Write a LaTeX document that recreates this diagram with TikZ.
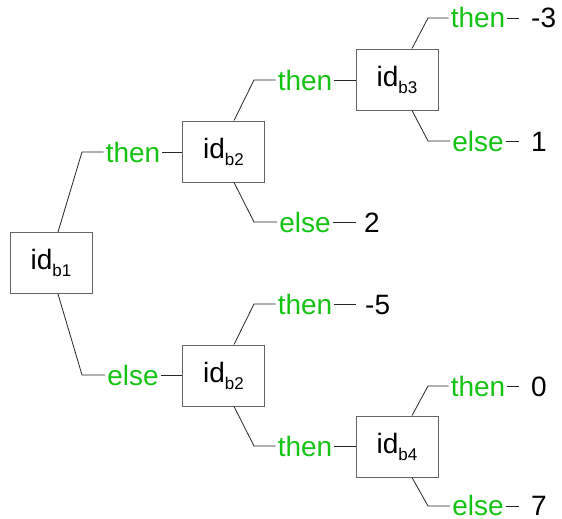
\documentclass[tikz,border=0pt]{standalone}
\usepackage{fontspec}
\setmainfont{Liberation Sans}
\definecolor{brgreen}{RGB}{20,195,20}
\definecolor{boxgray}{RGB}{100,100,100}
\newcommand\idsub[1]{id\raisebox{-7pt}{\fontsize{17}{17}\selectfont #1}}
\begin{document}
\begin{tikzpicture}[x=1pt,y=-1pt,
  testbox/.style={draw=boxgray, line width=0.9pt, minimum width=82pt,
    minimum height=61pt, inner sep=0pt, font=\fontsize{28}{30}\selectfont},
  branch/.style={text=brgreen, font=\fontsize{28}{30}\selectfont,
    anchor=base, inner xsep=2pt, inner ysep=0pt},
  leafval/.style={font=\fontsize{28}{30}\selectfont, anchor=base west, inner sep=0pt},
  wire/.style={draw=black!85, line width=0.8pt}]
\useasboundingbox (0,0) rectangle (562,519);

% decision boxes
\node[testbox] (b1)  at (51,263)    {\idsub{b1}};
\node[testbox] (b2u) at (223.5,151.5) {\idsub{b2}};
\node[testbox] (b3)  at (397,79.5)  {\idsub{b3}};
\node[testbox] (b2l) at (223.5,375.5) {\idsub{b2}};
\node[testbox] (b4)  at (397,446.5) {\idsub{b4}};

% bend points of the branches
\coordinate (k1t)  at (82,152);
\coordinate (k1e)  at (82,375);
\coordinate (k2ut) at (254,80);
\coordinate (k2ue) at (254,222);
\coordinate (k2lt) at (254,304);
\coordinate (k2ll) at (254,446);
\coordinate (k3t)  at (428,18);
\coordinate (k3e)  at (428,141);
\coordinate (k4t)  at (428,386);
\coordinate (k4e)  at (428,506);

% branch labels
\node[branch] (l1t)  at (133,162) {then};
\node[branch] (l1e)  at (133,385) {else};
\node[branch] (l2ut) at (305,90)  {then};
\node[branch] (l2ue) at (305,232) {else};
\node[branch] (l2lt) at (305,314) {then};
\node[branch] (l2ll) at (305,456) {then};
\node[branch] (l3t)  at (478,28)  {then};
\node[branch] (l3e)  at (478,151) {else};
\node[branch] (l4t)  at (478,396) {then};
\node[branch] (l4e)  at (478,515) {else};

% leaf values
\node[leafval] (v3t) at (531,28)  {-3};
\node[leafval] (v3e) at (531,151) {1};
\node[leafval] (v4t) at (531,396) {0};
\node[leafval] (v4e) at (531,515) {7};
\node[leafval] (v2e) at (364,232) {2};
\node[leafval] (v2t) at (365,314) {-5};

% free ends of the leaf connectors
\coordinate (e3t) at (519,18);
\coordinate (e3e) at (519,141);
\coordinate (e4t) at (519,386);
\coordinate (e4e) at (519,506);
\coordinate (e2e) at (356,222);
\coordinate (e2t) at (356,304);

% connectors from id_b1
\draw[wire] ([xshift=7pt]b1.north) -- (k1t) -- (k1t -| l1t.west);
\draw[wire] (l1t.east |- k1t) -- (b2u.west |- k1t);
\draw[wire] ([xshift=7pt]b1.south) -- (k1e) -- (k1e -| l1e.west);
\draw[wire] (l1e.east |- k1e) -- (b2l.west |- k1e);

% connectors from the upper id_b2
\draw[wire] ([xshift=10.5pt]b2u.north) -- (k2ut) -- (k2ut -| l2ut.west);
\draw[wire] (l2ut.east |- k2ut) -- (b3.west |- k2ut);
\draw[wire] ([xshift=10.5pt]b2u.south) -- (k2ue) -- (k2ue -| l2ue.west);
\draw[wire] (l2ue.east |- k2ue) -- (e2e);

% connectors from the lower id_b2
\draw[wire] ([xshift=10.5pt]b2l.north) -- (k2lt) -- (k2lt -| l2lt.west);
\draw[wire] (l2lt.east |- k2lt) -- (e2t);
\draw[wire] ([xshift=10.5pt]b2l.south) -- (k2ll) -- (k2ll -| l2ll.west);
\draw[wire] (l2ll.east |- k2ll) -- (b4.west |- k2ll);

% connectors from id_b3
\draw[wire] ([xshift=15pt]b3.north) -- (k3t) -- (k3t -| l3t.west);
\draw[wire] (l3t.east |- k3t) -- (e3t);
\draw[wire] ([xshift=15pt]b3.south) -- (k3e) -- (k3e -| l3e.west);
\draw[wire] (l3e.east |- k3e) -- (e3e);

% connectors from id_b4
\draw[wire] ([xshift=15pt]b4.north) -- (k4t) -- (k4t -| l4t.west);
\draw[wire] (l4t.east |- k4t) -- (e4t);
\draw[wire] ([xshift=15pt]b4.south) -- (k4e) -- (k4e -| l4e.west);
\draw[wire] (l4e.east |- k4e) -- (e4e);
\end{tikzpicture}
\end{document}
